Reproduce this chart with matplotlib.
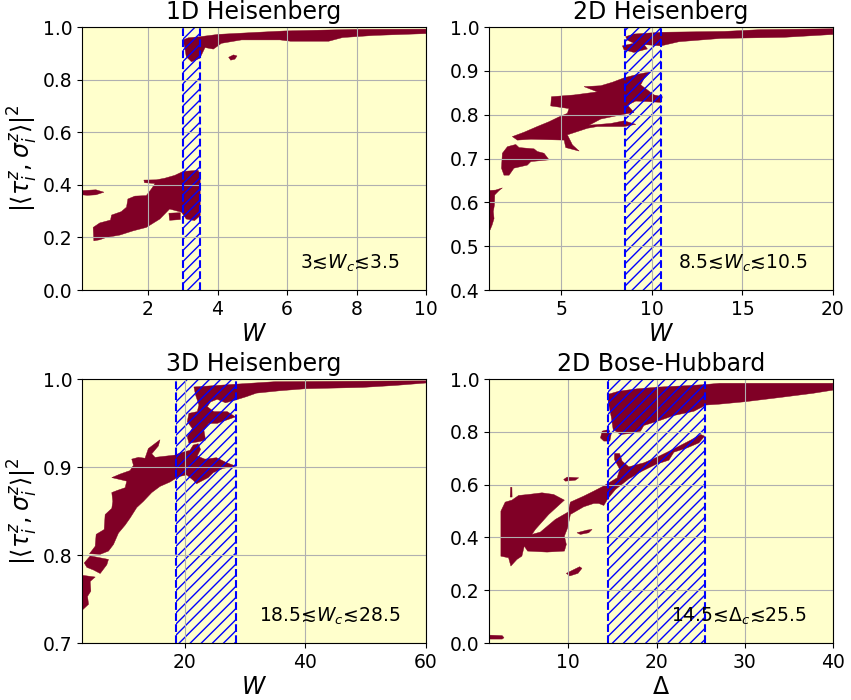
import matplotlib
matplotlib.use("Agg")
import matplotlib.pyplot as plt

# outlines (x, y) of the dark regions

# 1D Heisenberg
h1_left = [(0.1, 0.378), (0.5, 0.381), (0.73, 0.372), (0.5, 0.362), (0.25, 0.36), (0.1, 0.362)]
h1_main = [(0.44, 0.187), (0.42, 0.238), (0.61, 0.255), (0.92, 0.266), (0.95, 0.285), (1.23, 0.298),
           (1.38, 0.315), (1.42, 0.346), (1.62, 0.357), (1.95, 0.359), (2.10, 0.385), (2.20, 0.405),
           (1.90, 0.408), (1.88, 0.418), (2.24, 0.419), (2.48, 0.425), (2.77, 0.436), (3.01, 0.451),
           (3.44, 0.455), (3.50, 0.436), (3.50, 0.283), (3.34, 0.264), (3.10, 0.27), (2.96, 0.296),
           (2.62, 0.308), (2.34, 0.27), (1.95, 0.238), (1.57, 0.225), (1.19, 0.209), (0.80, 0.200),
           (0.61, 0.191)]
h1_small = [(2.60, 0.292), (2.93, 0.294), (2.93, 0.268), (2.62, 0.265)]
h1_top = [(3.01, 0.951), (3.16, 0.959), (3.49, 0.963), (4.02, 0.972), (5.17, 0.980), (5.93, 0.985),
          (7.95, 0.991), (10.0, 0.992), (10.0, 0.975), (8.5, 0.968), (7.6, 0.960), (7.2, 0.946),
          (6.1, 0.946), (5.8, 0.951), (4.69, 0.951), (4.11, 0.938), (3.88, 0.916), (3.64, 0.922),
          (3.49, 0.881), (3.25, 0.868), (3.10, 0.887), (3.06, 0.919)]
h1_dots = [(4.32, 0.885), (4.46, 0.894), (4.56, 0.890), (4.50, 0.878), (4.38, 0.874)]

# 2D Heisenberg
h2_left = [(1.0, 0.627), (1.37, 0.628), (1.74, 0.633), (1.56, 0.627), (1.32, 0.617), (1.30, 0.594),
           (1.24, 0.579), (1.28, 0.563), (1.17, 0.548), (1.06, 0.537), (1.0, 0.537)]
h2_low = [(1.74, 0.712), (2.02, 0.727), (2.48, 0.732), (2.66, 0.725), (3.49, 0.722), (3.67, 0.716),
          (4.04, 0.712), (4.32, 0.697), (3.31, 0.693), (3.12, 0.685), (2.38, 0.678), (2.11, 0.662),
          (1.83, 0.662), (1.69, 0.678)]
h2_mid = [(2.29, 0.750), (2.94, 0.760), (3.67, 0.773), (4.32, 0.784), (4.87, 0.795), (5.33, 0.803),
          (5.42, 0.814), (4.41, 0.820), (4.45, 0.841), (5.70, 0.845), (6.99, 0.852), (6.25, 0.864),
          (7.17, 0.866), (7.82, 0.874), (8.46, 0.884), (9.20, 0.892), (9.94, 0.898), (9.57, 0.883),
          (9.38, 0.868), (10.12, 0.845), (10.58, 0.841), (10.49, 0.828), (9.75, 0.830), (9.11, 0.831),
          (8.65, 0.822), (9.01, 0.805), (8.46, 0.801), (7.17, 0.790), (6.53, 0.776), (7.73, 0.780),
          (8.46, 0.786), (9.11, 0.778), (8.46, 0.773), (6.99, 0.773), (6.44, 0.769), (5.33, 0.754),
          (5.61, 0.731), (5.98, 0.717), (5.24, 0.725), (5.15, 0.742), (3.31, 0.744), (2.57, 0.742)]
h2_top = [(8.55, 0.978), (9.0, 0.984), (10.5, 0.988), (14.0, 0.990), (16.0, 0.994), (20.0, 0.996),
          (20.0, 0.983), (17.3, 0.9765), (13.8, 0.974), (11.5, 0.9665), (10.5, 0.957), (9.57, 0.960),
          (9.75, 0.950), (9.01, 0.942), (8.46, 0.948), (8.37, 0.957), (9.01, 0.963), (8.65, 0.970)]

# 3D Heisenberg
h3_low = [(3.0, 0.777), (5.18, 0.775), (4.35, 0.770), (4.46, 0.759), (3.91, 0.753), (4.08, 0.744),
          (3.14, 0.738), (3.0, 0.738)]
h3_mid = [(3.36, 0.791), (4.35, 0.799), (7.38, 0.795), (7.11, 0.789), (6.01, 0.779), (4.90, 0.783),
          (3.80, 0.786)]
h3_main = [(4.24, 0.8015), (5.18, 0.810), (5.34, 0.8235), (6.67, 0.829), (6.83, 0.846), (7.93, 0.853),
           (8.10, 0.861), (7.93, 0.871), (8.87, 0.8735), (10.14, 0.8765), (10.41, 0.884), (7.93, 0.888),
           (9.31, 0.892), (10.96, 0.896), (11.52, 0.902), (11.24, 0.909), (12.34, 0.911), (13.44, 0.910),
           (13.99, 0.921), (15.92, 0.931), (15.65, 0.924), (14.55, 0.915), (15.10, 0.911), (17.02, 0.9125),
           (18.40, 0.9136), (19.23, 0.916), (20.88, 0.919), (21.43, 0.925), (22.26, 0.9265), (22.64, 0.920),
           (22.09, 0.9125), (23.36, 0.909), (25.29, 0.9106), (26.94, 0.905), (28.48, 0.901), (26.39, 0.8985),
           (24.74, 0.8936), (23.91, 0.888), (21.98, 0.881), (21.43, 0.885), (20.33, 0.891), (18.95, 0.889),
           (17.58, 0.883), (15.92, 0.878), (14.55, 0.871), (13.17, 0.861), (12.07, 0.854), (10.96, 0.842),
           (10.14, 0.834), (9.04, 0.825), (8.21, 0.812), (7.38, 0.8045), (6.01, 0.8008)]
h3_top = [(21.54, 0.991), (28.15, 0.994), (35.0, 0.997), (60.0, 0.998), (60.0, 0.9955), (55.0, 0.9928),
          (49.5, 0.9905), (40.0, 0.989), (35.76, 0.9867), (31.9, 0.984), (30.25, 0.980), (28.6, 0.9765),
          (26.78, 0.973), (25.40, 0.977), (24.30, 0.974), (23.75, 0.9686), (24.85, 0.963), (27.05, 0.963),
          (28.43, 0.957), (25.40, 0.9496), (24.02, 0.9496), (23.19, 0.942), (23.47, 0.9307), (22.37, 0.9288),
          (20.71, 0.927), (20.44, 0.9345), (21.27, 0.944), (20.44, 0.9515), (20.71, 0.961), (22.10, 0.963),
          (22.37, 0.9705), (22.10, 0.976), (21.82, 0.9818)]

# 2D Bose-Hubbard
bh_top = [(14.39, 0.941), (15.72, 0.954), (17.80, 0.963), (20.45, 0.970), (23.48, 0.975), (25.45, 0.979),
          (27.15, 0.984), (40.0, 0.984), (40.0, 0.958), (37.73, 0.946), (33.95, 0.930), (30.0, 0.914),
          (27.15, 0.905), (25.6, 0.9015), (24.24, 0.878), (21.97, 0.862), (20.45, 0.844), (18.56, 0.824),
          (18.18, 0.8025), (17.05, 0.794), (15.91, 0.790), (15.08, 0.809), (14.85, 0.859), (14.58, 0.903)]
bh_side = [(13.83, 0.8025), (14.58, 0.809), (14.85, 0.790), (14.70, 0.765), (14.02, 0.765), (13.64, 0.777)]
bh_main = [(2.35, 0.329), (2.35, 0.4997), (2.84, 0.5338), (3.60, 0.5413), (4.36, 0.559), (5.49, 0.5628),
           (7.01, 0.569), (8.33, 0.5628), (9.55, 0.5413), (7.77, 0.487), (6.25, 0.430), (5.87, 0.4114),
           (6.82, 0.4202), (8.52, 0.4681), (9.96, 0.4959), (10.23, 0.5338), (11.74, 0.5565), (12.88, 0.5754),
           (13.83, 0.5918), (14.47, 0.6044), (15.53, 0.6259), (15.83, 0.6574), (15.23, 0.6953), (15.23, 0.718),
           (15.80, 0.718), (16.10, 0.689), (16.86, 0.6675), (18.56, 0.6826), (19.89, 0.7016), (21.21, 0.723),
           (22.54, 0.7457), (23.86, 0.7685), (25.0, 0.79), (25.45, 0.7836), (24.81, 0.7584), (23.48, 0.7394),
           (21.97, 0.723), (21.40, 0.6927), (19.89, 0.6763), (18.37, 0.6511), (16.86, 0.622), (15.34, 0.5817),
           (14.47, 0.5464), (14.02, 0.5211), (13.45, 0.5287), (12.88, 0.5287), (11.74, 0.5161), (10.23, 0.487),
           (9.92, 0.4366), (9.55, 0.405), (9.77, 0.3735), (9.55, 0.3483), (7.58, 0.3445), (5.38, 0.3483),
           (5.0, 0.3672), (4.73, 0.3293), (4.17, 0.3167), (3.48, 0.2915), (3.22, 0.323)]
bh_a = [(9.47, 0.6196), (9.85, 0.6284), (11.17, 0.6259), (10.8, 0.617), (9.66, 0.6132)]
bh_b = [(10.98, 0.4177), (12.12, 0.4278), (12.69, 0.4303), (12.31, 0.4177), (11.36, 0.4114)]
bh_c = [(9.77, 0.264), (10.52, 0.2765), (11.28, 0.289), (11.54, 0.283), (11.09, 0.264), (10.15, 0.254)]
bh_d = [(1.0, 0.030), (2.5, 0.028), (2.7, 0.020), (2.5, 0.015), (1.0, 0.015)]
bh_spike = [(3.40, 0.553), (3.45, 0.590), (3.60, 0.590), (3.62, 0.553)]

panels = [
    dict(title="1D Heisenberg", blobs=[h1_left, h1_main, h1_small, h1_top, h1_dots],
         band=(3.0, 3.5), xlim=(0.1, 10), ylim=(0.0, 1.0), xticks=[2, 4, 6, 8, 10],
         yticks=[0.0, 0.2, 0.4, 0.6, 0.8, 1.0], xlabel=r"$W$", note="3≲$W_c$≲3.5",
         pos=[0.0964, 0.5857, 0.4042, 0.3757], ylabel=True),
    dict(title="2D Heisenberg", blobs=[h2_left, h2_low, h2_mid, h2_top],
         band=(8.5, 10.5), xlim=(1, 20), ylim=(0.4, 1.0), xticks=[5, 10, 15, 20],
         yticks=[0.4, 0.5, 0.6, 0.7, 0.8, 0.9, 1.0], xlabel=r"$W$", note="8.5≲$W_c$≲10.5",
         pos=[0.5746, 0.5857, 0.4042, 0.3757], ylabel=False),
    dict(title="3D Heisenberg", blobs=[h3_low, h3_mid, h3_main, h3_top],
         band=(18.5, 28.5), xlim=(3, 60), ylim=(0.7, 1.0), xticks=[20, 40, 60],
         yticks=[0.7, 0.8, 0.9, 1.0], xlabel=r"$W$", note="18.5≲$W_c$≲28.5",
         pos=[0.0964, 0.0814, 0.4042, 0.3771], ylabel=True),
    dict(title="2D Bose-Hubbard", blobs=[bh_top, bh_side, bh_main, bh_a, bh_b, bh_c, bh_d, bh_spike],
         band=(14.5, 25.5), xlim=(1, 40), ylim=(0.0, 1.0), xticks=[10, 20, 30, 40],
         yticks=[0.0, 0.2, 0.4, 0.6, 0.8, 1.0], xlabel=r"$\Delta$", note="14.5≲$\\Delta_c$≲25.5",
         pos=[0.5746, 0.0814, 0.4042, 0.3771], ylabel=False),
]

bg_color = "#ffffcc"
blob_color = "#800026"

fig = plt.figure(figsize=(8.51, 7.0), dpi=100)
for p in panels:
    ax = fig.add_axes(p["pos"])
    ax.set_facecolor(bg_color)
    for blob in p["blobs"]:
        xs = [v[0] for v in blob]
        ys = [v[1] for v in blob]
        ax.fill(xs, ys, color=blob_color, lw=0.3, ec=blob_color)
    lo, hi = p["band"]
    ax.axvspan(lo, hi, facecolor="none", edgecolor="blue", hatch="///", lw=0)
    ax.axvline(lo, color="blue", ls="--", lw=1.5)
    ax.axvline(hi, color="blue", ls="--", lw=1.5)
    ax.set_xlim(p["xlim"])
    ax.set_ylim(p["ylim"])
    ax.set_xticks(p["xticks"])
    ax.set_yticks(p["yticks"])
    ax.set_yticklabels(["%.1f" % t for t in p["yticks"]])
    ax.tick_params(labelsize=13.5)
    ax.grid(True)
    ax.set_title(p["title"], fontsize=17)
    ax.set_xlabel(p["xlabel"], fontsize=17, labelpad=2)
    if p["ylabel"]:
        ax.set_ylabel(r"$|\langle \tau_i^z, \sigma_i^z\rangle|^2$", fontsize=17, labelpad=2)
    ax.text(0.925, 0.08, p["note"], transform=ax.transAxes, ha="right", va="baseline", fontsize=13.5)

fig.savefig("out.png", dpi=100)
